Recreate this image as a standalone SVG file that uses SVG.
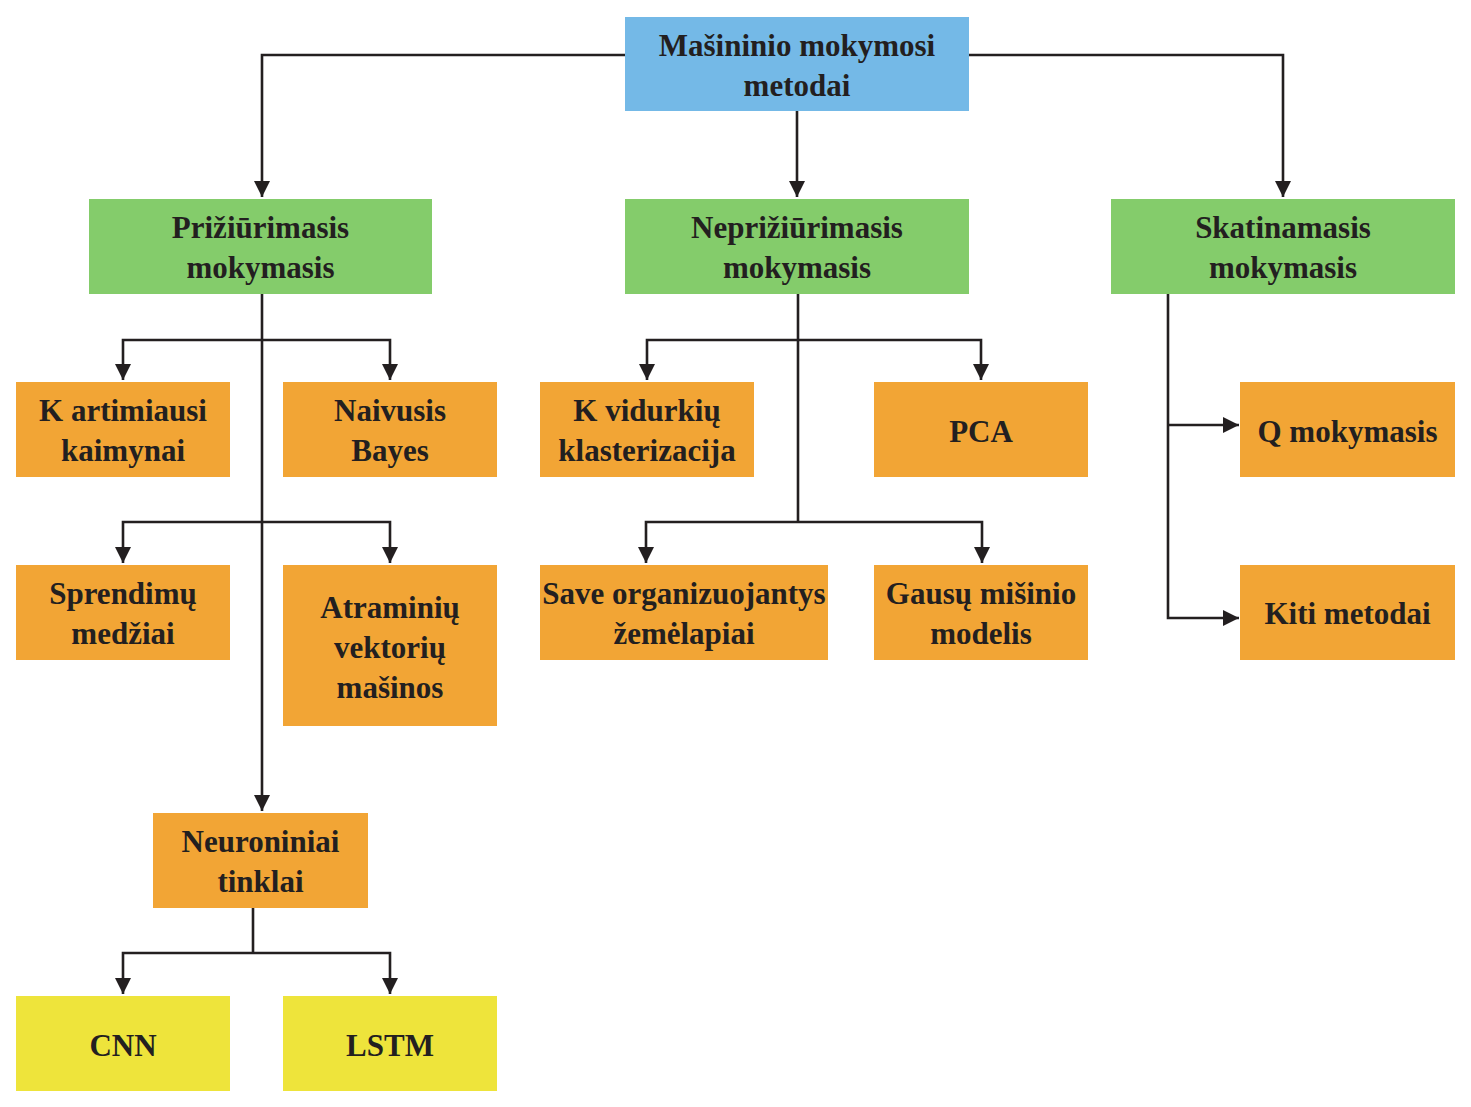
<svg xmlns="http://www.w3.org/2000/svg" width="1471" height="1107" viewBox="0 0 1471 1107">
<style>
.t{font-family:"Liberation Serif","Times New Roman",serif;font-weight:bold;font-size:31px;fill:#231F20;text-anchor:middle}
.blue{fill:#74B9E7}
.green{fill:#84CC6B}
.orange{fill:#F2A535}
.yellow{fill:#EEE43B}
.c{fill:none;stroke:#231F20;stroke-width:2.6}
.a{marker-end:url(#arr)}
</style>
<defs>
<marker id="arr" markerUnits="userSpaceOnUse" viewBox="0 0 16 16" markerWidth="16" markerHeight="16" refX="16" refY="8" orient="auto">
<path d="M0,0 L16,8 L0,16 z" fill="#231F20"/>
</marker>
</defs>
<rect width="1471" height="1107" fill="#FFFFFF"/>
<g id="connectors">
<path class="c a" d="M625,55 H262 V197"/>
<path class="c a" d="M969,55 H1283 V197"/>
<path class="c a" d="M797,111 V197"/>
<path class="c a" d="M262,294 V811"/>
<path class="c a" d="M262,340 H123 V380"/>
<path class="c a" d="M262,340 H390 V380"/>
<path class="c a" d="M262,522 H123 V563"/>
<path class="c a" d="M262,522 H390 V563"/>
<path class="c" d="M798,294 V522"/>
<path class="c a" d="M798,340 H647 V380"/>
<path class="c a" d="M798,340 H981 V380"/>
<path class="c a" d="M798,522 H646 V563"/>
<path class="c a" d="M798,522 H982 V563"/>
<path class="c a" d="M1168,294 V618 H1239"/>
<path class="c a" d="M1168,425 H1239"/>
<path class="c" d="M253,908 V953"/>
<path class="c a" d="M253,953 H123 V994"/>
<path class="c a" d="M253,953 H390 V994"/>
</g>
<g id="n-root"><rect class="blue" x="625" y="17" width="344" height="94"/><text class="t" x="797" y="56">Mašininio mokymosi</text><text class="t" x="797" y="96">metodai</text></g>
<g id="n-sup"><rect class="green" x="89" y="199" width="343" height="95"/><text class="t" x="260.5" y="238">Prižiūrimasis</text><text class="t" x="260.5" y="278">mokymasis</text></g>
<g id="n-unsup"><rect class="green" x="625" y="199" width="344" height="95"/><text class="t" x="797" y="238">Neprižiūrimasis</text><text class="t" x="797" y="278">mokymasis</text></g>
<g id="n-rl"><rect class="green" x="1111" y="199" width="344" height="95"/><text class="t" x="1283" y="238">Skatinamasis</text><text class="t" x="1283" y="278">mokymasis</text></g>
<g id="n-knn"><rect class="orange" x="16" y="382" width="214" height="95"/><text class="t" x="123" y="421">K artimiausi</text><text class="t" x="123" y="461">kaimynai</text></g>
<g id="n-nb"><rect class="orange" x="283" y="382" width="214" height="95"/><text class="t" x="390" y="421">Naivusis</text><text class="t" x="390" y="461">Bayes</text></g>
<g id="n-kmeans"><rect class="orange" x="540" y="382" width="214" height="95"/><text class="t" x="647" y="421">K vidurkių</text><text class="t" x="647" y="461">klasterizacija</text></g>
<g id="n-pca"><rect class="orange" x="874" y="382" width="214" height="95"/><text class="t" x="981" y="442">PCA</text></g>
<g id="n-q"><rect class="orange" x="1240" y="382" width="215" height="95"/><text class="t" x="1347.5" y="442">Q mokymasis</text></g>
<g id="n-dt"><rect class="orange" x="16" y="565" width="214" height="95"/><text class="t" x="123" y="604">Sprendimų</text><text class="t" x="123" y="644">medžiai</text></g>
<g id="n-svm"><rect class="orange" x="283" y="565" width="214" height="161"/><text class="t" x="390" y="618">Atraminių</text><text class="t" x="390" y="658">vektorių</text><text class="t" x="390" y="698">mašinos</text></g>
<g id="n-som"><rect class="orange" x="540" y="565" width="288" height="95"/><text class="t" x="684" y="604">Save organizuojantys</text><text class="t" x="684" y="644">žemėlapiai</text></g>
<g id="n-gmm"><rect class="orange" x="874" y="565" width="214" height="95"/><text class="t" x="981" y="604">Gausų mišinio</text><text class="t" x="981" y="644">modelis</text></g>
<g id="n-other"><rect class="orange" x="1240" y="565" width="215" height="95"/><text class="t" x="1347.5" y="624">Kiti metodai</text></g>
<g id="n-nn"><rect class="orange" x="153" y="813" width="215" height="95"/><text class="t" x="260.5" y="852">Neuroniniai</text><text class="t" x="260.5" y="892">tinklai</text></g>
<g id="n-cnn"><rect class="yellow" x="16" y="996" width="214" height="95"/><text class="t" x="123" y="1056">CNN</text></g>
<g id="n-lstm"><rect class="yellow" x="283" y="996" width="214" height="95"/><text class="t" x="390" y="1056">LSTM</text></g>
</svg>
